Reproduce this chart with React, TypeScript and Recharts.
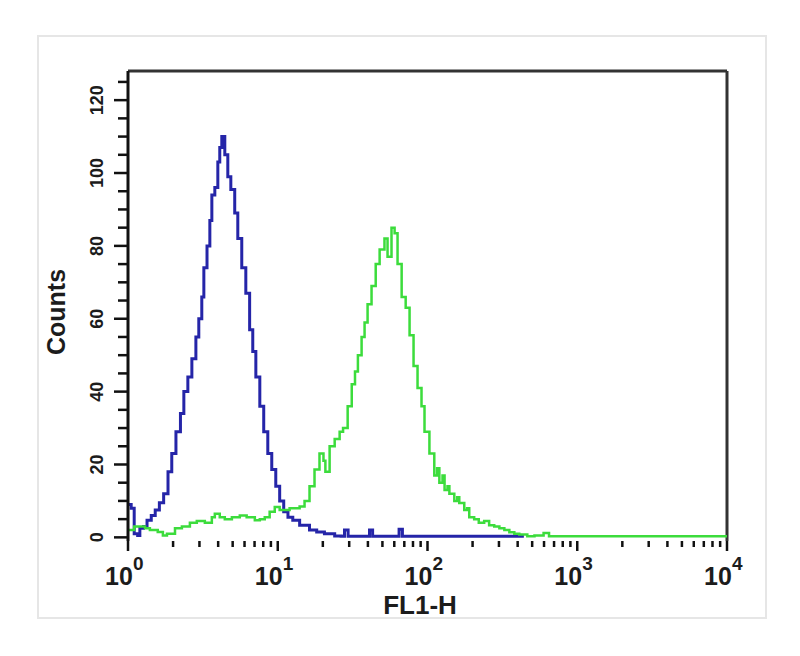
import React from 'react';
import { LineChart, Line, XAxis, YAxis, ReferenceLine } from 'recharts';

// control (blue) histogram: FL1-H channel value and counts
const blueFl = [
  1.0, 1.05, 1.1, 1.16, 1.2, 1.27, 1.34, 1.43, 1.52, 1.62, 1.73, 1.85, 1.96, 2.09, 2.24, 2.36,
  2.51, 2.67, 2.84, 2.97, 3.11, 3.21, 3.37, 3.52, 3.63, 3.8, 3.98, 4.1, 4.23, 4.43, 4.64, 4.86,
  5.16, 5.41, 5.75, 6.12, 6.49, 6.81, 7.14, 7.59, 8.06, 8.58, 9.12, 9.7, 10.3, 10.96, 11.7, 12.6,
  14.0, 16.3, 18.2, 20.5, 24.0, 26.5, 27.9, 29.5, 35.2, 39, 41, 43, 52, 62, 64.6, 68, 100, 160,
  250, 440,
];
const blueCounts = [
  9, 8, 1, 0.5, 2.5, 3, 4.7, 6, 7.5, 9.5, 12, 18, 23, 29, 34, 40,
  44, 49, 55, 60, 66, 74, 80, 87, 94, 96, 103, 107, 110, 105, 99, 95.5,
  89, 82, 74, 67, 57, 51, 44, 36, 29, 23, 18.6, 14, 10, 7, 5.5, 4.7,
  3.3, 2, 1.5, 1, 0.4, 0.3, 2, 0.3, 0.3, 0.3, 2, 0.3, 0.3, 0.3, 2.2, 0.3, 0.3, 0.3,
  0.3, 0.3,
];

// stained (green) histogram
const greenFl = [
  1.0, 1.1, 1.2, 1.3, 1.4, 1.58, 1.71, 1.82, 2.06, 2.29, 2.59, 2.88, 3.26, 3.63, 3.8, 4.1,
  4.43, 4.94, 5.58, 6.2, 7.03, 7.59, 8.19, 8.83, 9.55, 10.3, 11.1, 12.0, 12.9, 14.0, 15.1, 16.3,
  17.6, 19.0, 20.2, 20.8, 22.2, 24.0, 25.9, 27.3, 29.3, 31.2, 32.8, 34.3, 36.3, 38.0, 39.8, 42.3,
  45.1, 47.9, 51.6, 54.1, 57.5, 60.3, 63.1, 67.2, 71.5, 75.9, 80.7, 85.8, 91.2, 95.5, 103, 111,
  116, 120, 126, 130, 136, 140, 151, 158, 163, 176, 184, 190, 205, 220, 239, 258,
  279, 302, 326, 352, 380, 410, 464, 518, 596, 648, 1400, 3000, 10000,
];
const greenCounts = [
  2, 3, 3, 2.5, 2, 1.5, 0.5, 1, 2.5, 3, 4, 4.5, 4, 5.5, 6.5, 5.5,
  5, 5.5, 6, 5.5, 4.7, 5, 5.5, 7, 8.3, 7.5, 7.5, 8, 8, 8.5, 10, 14,
  18.6, 23, 21, 18, 25, 27, 29, 30, 36, 42, 45.5, 50, 55, 59, 64, 69,
  75, 79, 82, 77, 85, 83.5, 75, 66, 63, 55.5, 47, 41, 36, 29, 23, 17,
  19, 15, 17, 13, 14, 12, 10, 11, 9.4, 7.5, 8, 5.5, 5, 4, 4.5, 3.3,
  3, 2.5, 2, 1.4, 1, 0.8, 0.3, 0.5, 1.2, 0.3, 0.3, 0.3, 0.3,
];

const decades = [1, 10, 100, 1000, 10000];
const xTicks = [1, 2, 3, 4, 5, 6, 7, 8, 9, 10, 20, 30, 40, 50, 60, 70, 80, 90,
  100, 200, 300, 400, 500, 600, 700, 800, 900, 1000, 2000, 3000, 4000, 5000,
  6000, 7000, 8000, 9000, 10000];
const yTicks = [0, 5, 10, 15, 20, 25, 30, 35, 40, 45, 50, 55, 60, 65, 70, 75, 80,
  85, 90, 95, 100, 105, 110, 115, 120, 125];

const blueData = blueFl.map((fl, i) => ({ fl, count: blueCounts[i] }));
const greenData = greenFl.map((fl, i) => ({ fl, count: greenCounts[i] }));

const FONT = '"Liberation Sans", Arial, sans-serif';
const INK = '#1c1c1c';

const XTick = (props: any) => {
  const { x, y, payload } = props;
  const v = payload.value;
  const major = decades.includes(v);
  return (
    <g>
      <line x1={x} x2={x} y1={y} y2={y + (major ? 10 : 6)} stroke="#111" strokeWidth={2.5} />
      {major && (
        <>
          <text x={x - 9} y={y + 44} textAnchor="middle" fontSize={25} fontWeight="bold" fill={INK} fontFamily={FONT}>
            10
          </text>
          <text x={x + 5} y={y + 29} textAnchor="start" fontSize={19} fontWeight="bold" fill={INK} fontFamily={FONT}>
            {Math.round(Math.log10(v))}
          </text>
        </>
      )}
    </g>
  );
};

const YTick = (props: any) => {
  const { x, y, payload } = props;
  const v = payload.value;
  const major = v % 20 === 0;
  const lx = x - 31;
  return (
    <g>
      <line x1={x - (major ? 14 : 10)} x2={x} y1={y} y2={y} stroke="#111" strokeWidth={2.5} />
      {major && (
        <text
          x={lx}
          y={y}
          transform={`rotate(-90 ${lx} ${y})`}
          textAnchor="middle"
          dominantBaseline="central"
          fontSize={18}
          fontWeight="bold"
          fill={INK}
          fontFamily={FONT}
        >
          {v}
        </text>
      )}
    </g>
  );
};

export default function App() {
  return (
    <div style={{ position: 'absolute', left: 0, top: 0, width: 800, height: 656, background: '#fff' }}>
      <div
        style={{
          position: 'absolute',
          left: 37,
          top: 35,
          width: 726,
          height: 580,
          border: '2px solid #e6e6e6',
        }}
      />
      <LineChart
        width={800}
        height={656}
        margin={{ top: 71, right: 73, bottom: 55, left: 68 }}
        style={{ position: 'absolute', left: 0, top: 0 }}
      >
        <XAxis
          dataKey="fl"
          type="number"
          scale="log"
          domain={[1, 10000]}
          allowDataOverflow
          ticks={xTicks}
          interval={0}
          tickSize={0}
          tickMargin={0}
          axisLine={false}
          tickLine={false}
          height={60}
          tick={XTick}
          label={{
            content: () => (
              <text x={420} y={614} textAnchor="middle" fontSize={26} fontWeight="bold" fill={INK} fontFamily={FONT}>
                FL1-H
              </text>
            ),
          }}
        />
        <YAxis
          type="number"
          domain={[-1, 128]}
          allowDataOverflow
          ticks={yTicks}
          interval={0}
          tickSize={0}
          tickMargin={0}
          width={60}
          axisLine={{ stroke: '#111', strokeWidth: 3 }}
          tickLine={false}
          tick={YTick}
          label={{
            content: () => (
              <text
                x={56}
                y={312}
                transform="rotate(-90 56 312)"
                textAnchor="middle"
                dominantBaseline="central"
                fontSize={25}
                fontWeight="bold"
                fill={INK}
                fontFamily={FONT}
              >
                Counts
              </text>
            ),
          }}
        />
        <ReferenceLine y={128} stroke="#333" strokeWidth={3} />
        <ReferenceLine x={10000} stroke="#333" strokeWidth={3} />
        <Line
          data={blueData}
          dataKey="count"
          type="stepAfter"
          stroke="#2525a8"
          strokeWidth={3}
          dot={false}
          activeDot={false}
          isAnimationActive={false}
        />
        <Line
          data={greenData}
          dataKey="count"
          type="stepAfter"
          stroke="#3cdc3c"
          strokeWidth={2.5}
          dot={false}
          activeDot={false}
          isAnimationActive={false}
        />
      </LineChart>
    </div>
  );
}
